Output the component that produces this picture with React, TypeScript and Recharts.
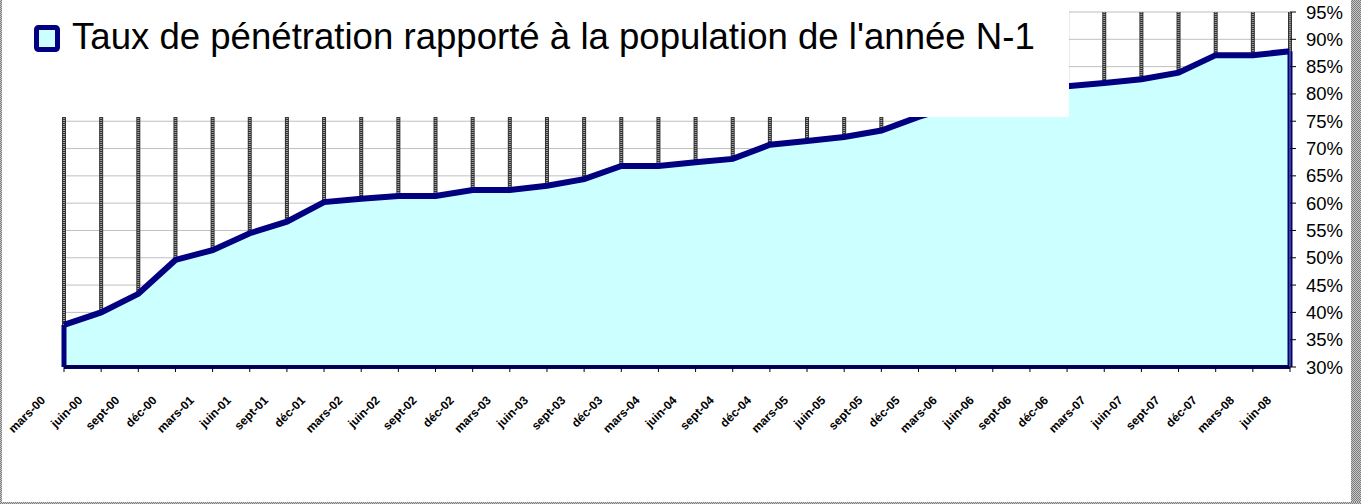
import { AreaChart, Area, XAxis, YAxis, CartesianGrid, ReferenceLine } from 'recharts';

// quarterly penetration rate (%), population of year N-1
const quarters = [
    'mars-00', 'juin-00', 'sept-00', 'déc-00',
    'mars-01', 'juin-01', 'sept-01', 'déc-01',
    'mars-02', 'juin-02', 'sept-02', 'déc-02',
    'mars-03', 'juin-03', 'sept-03', 'déc-03',
    'mars-04', 'juin-04', 'sept-04', 'déc-04',
    'mars-05', 'juin-05', 'sept-05', 'déc-05',
    'mars-06', 'juin-06', 'sept-06', 'déc-06',
    'mars-07', 'juin-07', 'sept-07', 'déc-07',
    'mars-08', 'juin-08',
];
const rates = [
    37.7, 40.0, 43.4, 49.6,
    51.4, 54.5, 56.6, 60.2,
    60.8, 61.3, 61.3, 62.4,
    62.4, 63.2, 64.4, 66.8,
    66.8, 67.5, 68.1, 70.7,
    71.4, 72.1, 73.3, 75.8,
    77.9, 79.6, 80.6, 81.4,
    82.0, 82.7, 83.9, 87.1,
    87.1, 87.8,
];
const yTicks = [30, 35, 40, 45, 50, 55, 60, 65, 70, 75, 80, 85, 90, 95];
const seriesName = "Taux de pénétration rapporté à la population de l'année N-1";

const NAVY = '#000080';
const FILL = '#CCFFFF';

const data = quarters.map((q, i) => ({ quarter: q, rate: rates[i] }));

function QuarterTick(props: any) {
    const { x, y, payload } = props;
    return (
        <g transform={`translate(${x - 18},${y + 27})`}>
            <text transform="rotate(-45)" textAnchor="end" fontSize={12} fontWeight="bold"
                fontFamily="'Liberation Sans', Arial, sans-serif" fill="#000">
                {payload.value}
            </text>
        </g>
    );
}

function VerticalGrid(props: any) {
    const { x1, y1, x2, y2 } = props;
    return (
        <g>
            <line x1={x1} y1={y1} x2={x2} y2={y2} stroke="#333" strokeWidth={4} />
            <line x1={x1} y1={y1} x2={x2} y2={y2} stroke="#a0a0a0" strokeWidth={2} strokeDasharray="1 1" />
        </g>
    );
}

const stipple = 'repeating-conic-gradient(#7a7a7a 0 25%, #c8c8c8 0 50%) 0 0 / 2px 2px';

export default function App() {
    const first = data[0];
    const last = data[data.length - 1];

    return (
        <div style={{ position: 'fixed', left: 0, top: 0, width: 1361, height: 504, background: '#fff', overflow: 'hidden' }}>
            <div style={{ position: 'absolute', left: 0, top: 0, width: 2, height: 504, background: stipple }} />
            <div style={{ position: 'absolute', left: 1351, top: 0, width: 10, height: 504, background: stipple }} />
            <div style={{ position: 'absolute', left: 0, top: 502, width: 1361, height: 2, background: stipple }} />

            <div style={{ position: 'absolute', left: 2, top: 0 }}>
                <AreaChart width={1349} height={502} data={data} margin={{ top: 12, right: 1, left: 62, bottom: 75 }}>
                    <CartesianGrid stroke="#c0c0c0" strokeWidth={1} vertical={VerticalGrid} />
                    <XAxis dataKey="quarter" interval={0} tickSize={5} tickLine={{ stroke: '#000' }}
                        axisLine={{ stroke: '#000' }} height={60} tick={<QuarterTick />} />
                    <YAxis orientation="right" domain={[30, 95]} ticks={yTicks} width={60}
                        tickFormatter={(v: number) => `${v}%`} tickSize={6} tickMargin={10}
                        axisLine={{ stroke: '#808080' }} tickLine={{ stroke: '#000' }}
                        tick={{ fill: '#000', fontSize: 18.5, fontFamily: "'Liberation Sans', Arial, sans-serif" }} />
                    <Area dataKey="rate" name={seriesName} type="linear" stroke={NAVY} strokeWidth={6}
                        fill={FILL} fillOpacity={1} baseValue={30} isAnimationActive={false} dot={false} activeDot={false} />
                    <ReferenceLine y={30} stroke={NAVY} strokeWidth={4} />
                    <ReferenceLine segment={[{ x: first.quarter, y: 30 }, { x: first.quarter, y: first.rate }]}
                        stroke={NAVY} strokeWidth={5} />
                    <ReferenceLine segment={[{ x: last.quarter, y: 30 }, { x: last.quarter, y: last.rate }]}
                        stroke={NAVY} strokeWidth={5} />
                </AreaChart>
            </div>

            {/* legend box, sits over the top-left of the plot like in the original */}
            <div style={{ position: 'absolute', left: 3, top: 0, width: 1066, height: 117, background: '#fff' }}>
                <svg width={1066} height={117}>
                    <rect x={33.5} y={27.5} width={21} height={22} rx={2} fill={FILL} stroke={NAVY} strokeWidth={5} />
                    <text x={69} y={49} fontSize={36.6} fontFamily="'Liberation Sans', Arial, sans-serif" fill="#000">
                        {seriesName}
                    </text>
                </svg>
            </div>
        </div>
    );
}
